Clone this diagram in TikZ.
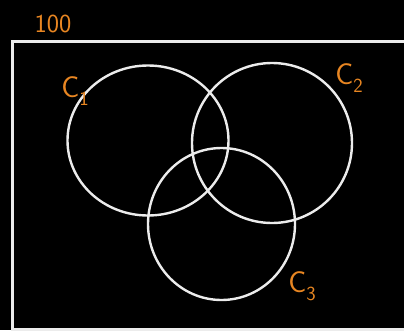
\documentclass[tikz,border=0pt]{standalone}
\usepackage{xcolor}
\usepackage{tikz}
\usetikzlibrary{positioning}
\definecolor{chalkorange}{RGB}{232,134,34}
\definecolor{chalkwhite}{RGB}{236,236,236}
\newcommand{\setlabel}[1]{C\raisebox{-0.25em}{\fontsize{20}{20}\selectfont #1}}

\begin{document}
\begin{tikzpicture}[
    x=1pt, y=-1pt,
    setline/.style={
        draw=chalkwhite,
        line width=2.4pt
    },
    lbl/.style={
        text=chalkorange,
        font=\sffamily\fontsize{30}{32}\selectfont,
        inner sep=0pt
    }
]
\fill[black] (0,0) rectangle (404,330);
\useasboundingbox (0,0) rectangle (404,330);
\draw[setline, line width=3pt] (420,41) -- (12,41) -- (12,329) -- (420,329);

\draw[setline] (148,140.5) ellipse [x radius=80.5, y radius=75];
\draw[setline] (272,143) ellipse [x radius=80, y radius=80];
\draw[setline] (221.5,224) ellipse [x radius=73.5, y radius=76];

\node[lbl, font=\sffamily\fontsize{26}{28}\selectfont] (universe) at (53,24) {100};
\node[lbl] (cone) at (75,91) {\setlabel{1}};
\node[lbl] (ctwo) at (349,78) {\setlabel{2}};
\node[lbl] (cthree) at (302,286) {\setlabel{3}};
\end{tikzpicture}
\end{document}
